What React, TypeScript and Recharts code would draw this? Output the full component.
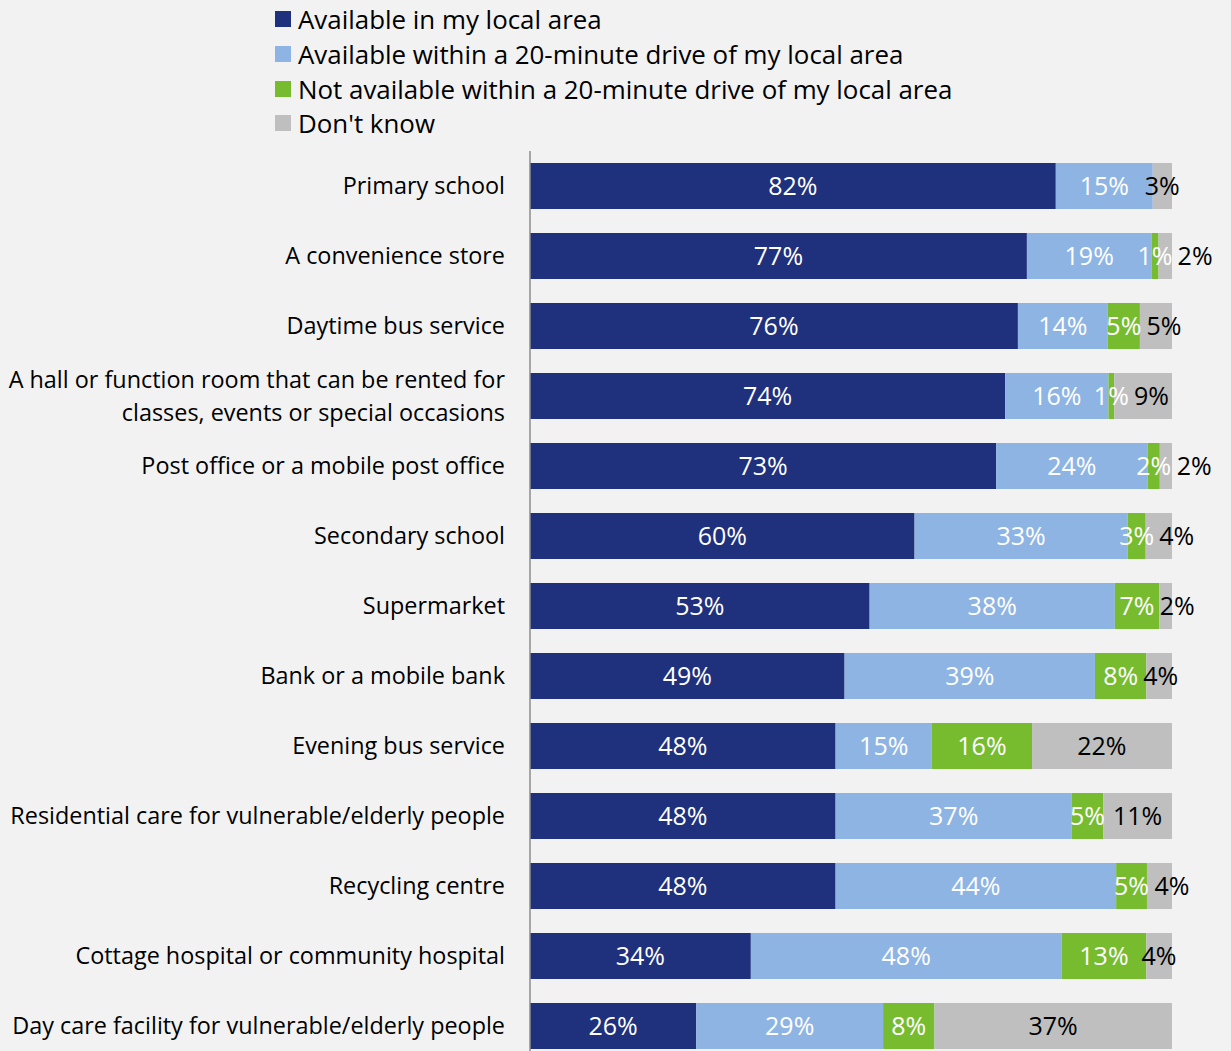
import React from "react";
import { BarChart, Bar, XAxis, YAxis, LabelList } from "recharts";

const categories = [
  "Primary school",
  "A convenience store",
  "Daytime bus service",
  "A hall or function room that can be rented for|classes, events or special occasions",
  "Post office or a mobile post office",
  "Secondary school",
  "Supermarket",
  "Bank or a mobile bank",
  "Evening bus service",
  "Residential care for vulnerable/elderly people",
  "Recycling centre",
  "Cottage hospital or community hospital",
  "Day care facility for vulnerable/elderly people",
];

const localArea = [81.9, 77.4, 76.0, 74.0, 72.6, 59.9, 52.9, 49.0, 47.6, 47.6, 47.6, 34.4, 25.9];
const withinDrive = [15.1, 19.4, 14.0, 16.1, 23.6, 33.2, 38.2, 39.0, 15.0, 36.8, 43.7, 48.4, 29.1];
const notAvailable = [0, 1.1, 5.0, 0.9, 1.9, 2.8, 6.9, 8.0, 15.6, 4.9, 4.8, 13.2, 8.0];
const dontKnow = [3.0, 2.1, 5.0, 9.0, 2.0, 4.1, 2.0, 4.0, 21.8, 10.7, 4.0, 4.0, 37.0];

const series = [
  { key: "local", name: "Available in my local area", color: "#1F307C", text: "#FFFFFF" },
  { key: "drive", name: "Available within a 20-minute drive of my local area", color: "#8EB4E3", text: "#FFFFFF" },
  { key: "notAvail", name: "Not available within a 20-minute drive of my local area", color: "#77BC2F", text: "#FFFFFF" },
  { key: "dontKnow", name: "Don't know", color: "#BFBFBF", text: "#000000" },
];

const data = categories.map((c, i) => ({
  name: c,
  local: localArea[i],
  drive: withinDrive[i],
  notAvail: notAvailable[i],
  dontKnow: dontKnow[i],
}));

const FONT = "'Open Sans', Lato, sans-serif";
const LABEL_SIZE = 25;

function fmtPct(v: any) {
  const n = Number(v);
  if (!n) return "";
  return Math.round(n) + "%";
}

// rough Open Sans advance widths
function textW(s: string) {
  let w = 0;
  for (const ch of s) w += ch === "%" ? 0.838 : 0.572;
  return w * LABEL_SIZE;
}

// "Don't know" label: centred, but pushed right when it would run into the label before it
function DontKnowLabel(props: any) {
  const vb = props.viewBox && props.viewBox.width != null ? props.viewBox : props;
  const { x, y, width, height } = vb;
  const i = props.index;
  const val = dontKnow[i];
  if (!val) return null;
  const txt = fmtPct(val);
  const ppu = width / val;
  const prevVal = notAvailable[i] ? notAvailable[i] : withinDrive[i];
  const prevW = prevVal * ppu;
  const prevEnd = x - prevW / 2 + textW(fmtPct(prevVal)) / 2;
  const start = Math.max(x + width / 2 - textW(txt) / 2, prevEnd + 5);
  return (
    <text
      x={start}
      y={y + height / 2}
      dy="0.35em"
      textAnchor="start"
      fontSize={LABEL_SIZE}
      fontFamily={FONT}
      fill="#000"
    >
      {txt}
    </text>
  );
}

function CategoryTick({ x, y, payload }: any) {
  const lines = String(payload.value).split("|");
  const lh = 33;
  const start = -((lines.length - 1) * lh) / 2;
  return (
    <text x={x} y={y} textAnchor="end" fontSize={23.4} fill="#000" fontFamily={FONT}>
      {lines.map((l, i) => (
        <tspan key={i} x={x} y={y + start + i * lh} dy="0.35em">
          {l}
        </tspan>
      ))}
    </text>
  );
}

export default function App() {
  return (
    <div
      style={{
        position: "absolute",
        left: 0,
        top: 0,
        width: 1231,
        height: 1051,
        background: "#F2F2F2",
        overflow: "hidden",
        fontFamily: FONT,
      }}
    >
      <div style={{ position: "absolute", left: 275, top: 2 }}>
        {series.map((s) => (
          <div key={s.key} style={{ display: "flex", alignItems: "center", height: 34.7, fontSize: 25.9, color: "#000" }}>
            <span style={{ width: 16, height: 16, background: s.color, marginRight: 7, display: "inline-block" }} />
            <span>{s.name}</span>
          </div>
        ))}
      </div>
      <BarChart
        width={1231}
        height={1070}
        data={data}
        layout="vertical"
        margin={{ top: 151, right: 59, left: 0, bottom: 9 }}
        style={{ position: "absolute", left: 0, top: 0 }}
      >
        <XAxis type="number" domain={[0, 100]} hide allowDataOverflow />
        <YAxis
          type="category"
          dataKey="name"
          width={530}
          tick={<CategoryTick />}
          tickLine={false}
          tickMargin={19}
          axisLine={{ stroke: "#8C8C8C", strokeWidth: 1.5 }}
          interval={0}
        />
        {series.map((s) => (
          <Bar key={s.key} dataKey={s.key} name={s.name} stackId="a" fill={s.color} barSize={46} isAnimationActive={false}>
            {s.key === "dontKnow" ? (
              <LabelList dataKey={s.key} content={(p: any) => <DontKnowLabel {...p} />} />
            ) : (
              <LabelList
                dataKey={s.key}
                position="center"
                formatter={fmtPct}
                fill={s.text}
                fontSize={LABEL_SIZE}
                fontFamily={FONT}
              />
            )}
          </Bar>
        ))}
      </BarChart>
    </div>
  );
}
